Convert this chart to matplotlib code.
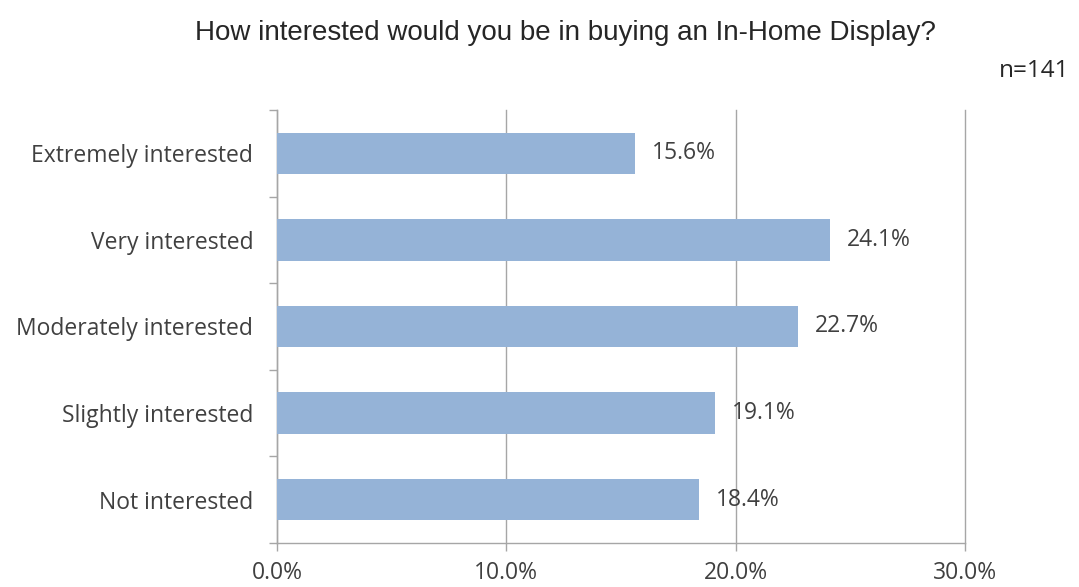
import matplotlib
matplotlib.use("Agg")
import matplotlib.pyplot as plt
from matplotlib.ticker import FuncFormatter, MultipleLocator
from matplotlib.transforms import offset_copy

categories = ["Extremely interested", "Very interested", "Moderately interested",
              "Slightly interested", "Not interested"]
values = [15.6, 24.1, 22.7, 19.1, 18.4]
title = "How interested would you be in buying an In-Home Display?"
sample_note = "n=141"

bar_color = "#95B3D7"
text_color = "#404040"
grid_color = "#A6A6A6"
label_font = ["Open Sans", "DejaVu Sans"]
arial_font = ["Liberation Sans", "DejaVu Sans"]
label_size = 16.5

fig = plt.figure(figsize=(10.79, 5.87), dpi=100)
ax = fig.add_axes([0.2567, 0.075, 0.8943 - 0.2567, 0.8126 - 0.075])

ypos = list(range(len(categories)))
ax.barh(ypos, values, height=0.48, color=bar_color, zorder=3)
ax.set_ylim(len(categories) - 0.5, -0.5)
ax.set_xlim(0, 30)

ax.xaxis.set_major_locator(MultipleLocator(10))
ax.xaxis.set_major_formatter(FuncFormatter(lambda v, p: f"{v:.1f}%"))
ax.grid(axis="x", color=grid_color, linewidth=1.0, zorder=0)
ax.set_axisbelow(True)
for gl in ax.get_xgridlines():
    gl.set_clip_on(False)

for side in ("top", "right"):
    ax.spines[side].set_visible(False)
for side in ("left", "bottom"):
    ax.spines[side].set_color(grid_color)
    ax.spines[side].set_linewidth(1.0)

# Category labels sit between boundary tick marks on the left axis
ax.set_yticks(ypos)
ax.set_yticklabels(categories, fontsize=label_size, color=text_color, family=label_font)
ax.tick_params(axis="y", which="major", length=0, pad=17)
ax.set_yticks([i - 0.5 for i in range(len(categories) + 1)], minor=True)
ax.tick_params(axis="y", which="minor", length=6, color=grid_color, width=1.0)

ax.tick_params(axis="x", which="major", length=6, color=grid_color, width=1.0,
               labelsize=label_size, labelcolor=text_color, pad=7)
for lbl in ax.get_xticklabels():
    lbl.set_family(label_font)

for y, v in zip(ypos, values):
    trans = offset_copy(ax.transData, fig=fig, x=17, y=0, units="dots")
    ax.text(v, y, f"{v:.1f}%", transform=trans, va="center", ha="left",
            fontsize=label_size, color=text_color, family=label_font, zorder=4)

fig.text(565 / 1079, 1 - 33 / 587, title, ha="center", va="center",
         fontsize=20, color="#262626", family=arial_font)
fig.text(1069 / 1079, 1 - 71 / 587, sample_note, ha="right", va="center",
         fontsize=17.5, color="#262626", family=label_font)

fig.savefig("out.png", dpi=100, facecolor="white")
